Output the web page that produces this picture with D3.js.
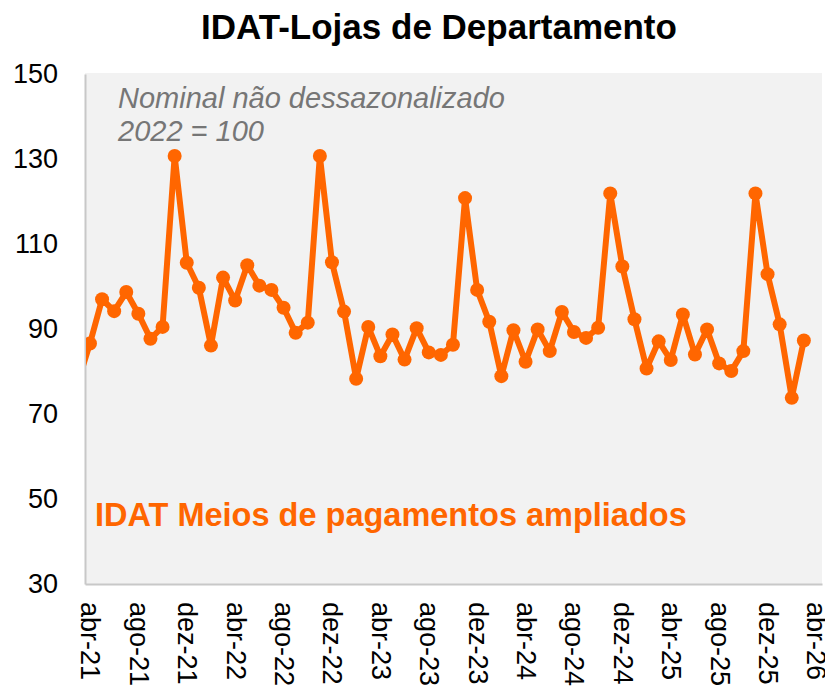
<!DOCTYPE html>
<html>
<head>
<meta charset="utf-8">
<script src="https://cdn.jsdelivr.net/npm/d3@7"></script>
<style>
  body { margin: 0; background: #fff; }
  text { font-family: Arial, "Liberation Sans", sans-serif; }
</style>
</head>
<body>
<svg id="graphic" width="825" height="691"></svg>
<script>
// months on the axis, mar-21 sits just left of the plot and gets clipped
const months = [
  "mar-21","abr-21","mai-21","jun-21","jul-21","ago-21","set-21","out-21","nov-21","dez-21",
  "jan-22","fev-22","mar-22","abr-22","mai-22","jun-22","jul-22","ago-22","set-22","out-22","nov-22","dez-22",
  "jan-23","fev-23","mar-23","abr-23","mai-23","jun-23","jul-23","ago-23","set-23","out-23","nov-23","dez-23",
  "jan-24","fev-24","mar-24","abr-24","mai-24","jun-24","jul-24","ago-24","set-24","out-24","nov-24","dez-24",
  "jan-25","fev-25","mar-25","abr-25","mai-25","jun-25","jul-25","ago-25","set-25","out-25","nov-25","dez-25",
  "jan-26","fev-26","mar-26","abr-26"
];

// IDAT meios de pagamentos ampliados, one value per month from mar-21
const values = [
  77.5, 86.6, 97.0, 94.2, 98.7, 93.6, 87.7, 90.5, 130.7, 105.6,
  99.7, 86.1, 102.1, 96.7, 105.0, 100.2, 99.2, 95.0, 89.1, 91.5, 130.7, 105.7,
  94.1, 78.3, 90.5, 83.6, 88.7, 82.8, 90.2, 84.5, 83.9, 86.3, 120.8, 99.2,
  91.7, 78.9, 89.7, 82.3, 89.9, 84.8, 94.0, 89.3, 87.9, 90.3, 121.9, 104.7,
  92.3, 80.7, 87.1, 82.7, 93.4, 84.0, 89.9, 81.9, 80.1, 84.8, 121.9, 102.9,
  91.1, 73.8, 87.3
];

const xTickLabels = ["abr-21","ago-21","dez-21","abr-22","ago-22","dez-22","abr-23","ago-23",
  "dez-23","abr-24","ago-24","dez-24","abr-25","ago-25","dez-25","abr-26"];
const yTicks = [30, 50, 70, 90, 110, 130, 150];

const plotLeft = 85, plotRight = 822, plotTop = 73, plotBottom = 584;
const orange = "#FF6600";

let svg = d3.select('#graphic');

let xScale = d3.scaleLinear()
    .domain([0.59, 61.5])
    .range([plotLeft, plotRight]);

let yScale = d3.scaleLinear()
    .domain([30, 150])
    .range([plotBottom, plotTop + 1]);

// title
svg.append('text')
    .attr('x', 439)
    .attr('y', 39)
    .attr('text-anchor', 'middle')
    .style('font-size', '35px')
    .style('font-weight', 'bold')
    .text('IDAT-Lojas de Departamento');

// plot background
svg.append('rect')
    .attr('x', plotLeft)
    .attr('y', plotTop)
    .attr('width', plotRight - plotLeft)
    .attr('height', plotBottom - plotTop)
    .attr('fill', '#F2F2F2');

svg.append('clipPath')
    .attr('id', 'plotclip')
    .append('rect')
    .attr('x', plotLeft + 1)
    .attr('y', plotTop)
    .attr('width', plotRight - plotLeft - 1)
    .attr('height', plotBottom - plotTop);

// axes
let yAxis = d3.axisLeft(yScale)
    .tickValues(yTicks)
    .tickSize(0)
    .tickSizeOuter(0)
    .tickPadding(27);

let gy = svg.append('g')
    .attr('transform', `translate(${plotLeft},0)`)
    .call(yAxis);
gy.select('.domain').attr('stroke', '#C8C8C8').attr('stroke-width', 2);
gy.selectAll('text')
    .style('font-size', '27px')
    .attr('fill', '#000');

let xAxis = d3.axisBottom(xScale)
    .tickValues(xTickLabels.map(m => months.indexOf(m)))
    .tickFormat(i => months[i])
    .tickSize(0)
    .tickSizeOuter(0);

let gx = svg.append('g')
    .attr('transform', `translate(0,${plotBottom})`)
    .call(xAxis);
gx.select('.domain').attr('stroke', '#C8C8C8').attr('stroke-width', 2);
gx.selectAll('text')
    .attr('y', 0)
    .attr('dy', null)
    .attr('transform', 'translate(0,18) rotate(90)')
    .attr('text-anchor', 'start')
    .attr('dominant-baseline', 'central')
    .attr('fill', '#000')
    .style('font-size', '27px');

// series
let pts = values.map((v, i) => ({ i: i, v: v }));

let line = d3.line()
    .x(d => xScale(d.i))
    .y(d => yScale(d.v));

let plot = svg.append('g').attr('clip-path', 'url(#plotclip)');

plot.append('path')
    .datum(pts)
    .attr('d', line)
    .attr('fill', 'none')
    .attr('stroke', orange)
    .attr('stroke-width', 6)
    .attr('stroke-linejoin', 'round');

plot.selectAll('.data_point')
    .data(pts)
    .enter()
    .append('circle')
    .classed('data_point', true)
    .attr('cx', d => xScale(d.i))
    .attr('cy', d => yScale(d.v))
    .attr('r', 7)
    .attr('fill', orange);

// notes
let note = svg.append('text')
    .attr('x', 118)
    .attr('y', 108)
    .attr('fill', '#767676')
    .style('font-size', '29px')
    .style('font-style', 'italic');
note.append('tspan').attr('x', 118).text('Nominal não dessazonalizado');
note.append('tspan').attr('x', 118).attr('y', 141).text('2022 = 100');

svg.append('text')
    .attr('x', 95)
    .attr('y', 526)
    .attr('fill', orange)
    .style('font-size', '32.5px')
    .style('font-weight', 'bold')
    .text('IDAT Meios de pagamentos ampliados');
</script>
</body>
</html>
